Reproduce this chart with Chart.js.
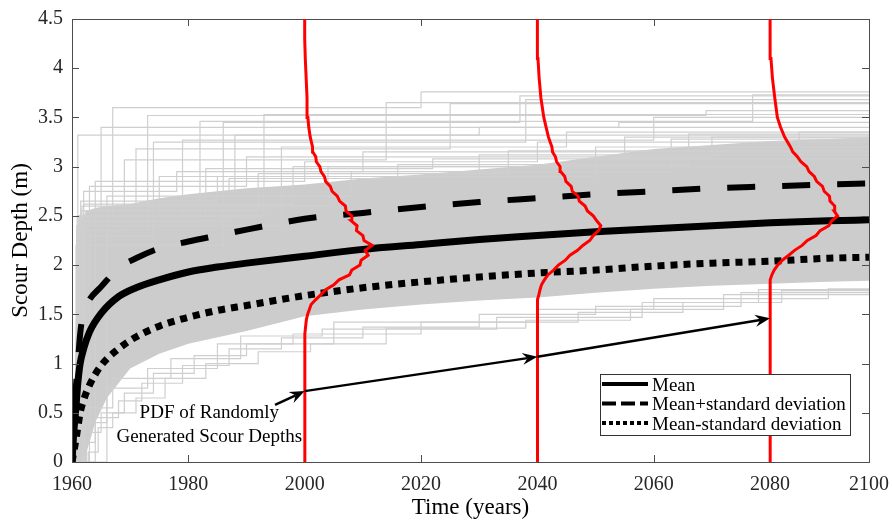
<!DOCTYPE html>
<html>
<head>
<meta charset="utf-8">
<script src="https://cdn.jsdelivr.net/npm/chart.js@4.4.1/dist/chart.umd.min.js"></script>
<style>
  html, body { margin: 0; padding: 0; background: #fff; }
  #wrap { width: 892px; height: 523px; }
</style>
</head>
<body>
<div id="wrap"><canvas id="chart"></canvas></div>
<script>
const SERIF = '"Liberation Serif", "Times New Roman", serif';

// axes
const xTickValues = [1960, 1980, 2000, 2020, 2040, 2060, 2080, 2097];
const xTickLabels = ['1960', '1980', '2000', '2020', '2040', '2060', '2080', '2100'];
const yTickValues = [0, 0.5, 1, 1.5, 2, 2.5, 3, 3.5, 4, 4.5];

// mean and +/- standard deviation
const statYears   = [1960, 1960.3, 1960.6, 1961, 1961.4, 1962, 1963, 1965, 1968, 1971, 1975, 1980, 1985, 1990, 2000, 2010, 2020, 2030, 2040, 2050, 2060, 2070, 2080, 2090, 2097];
const meanDepth   = [0, 0.3, 0.5, 0.8, 1.0, 1.15, 1.32, 1.51, 1.68, 1.77, 1.85, 1.93, 1.98, 2.02, 2.09, 2.16, 2.21, 2.26, 2.3, 2.34, 2.37, 2.4, 2.43, 2.45, 2.46];
const meanPlusSd  = [0, 0.35, 0.7, 1.0, 1.3, 1.53, 1.65, 1.78, 1.97, 2.07, 2.17, 2.24, 2.3, 2.36, 2.47, 2.53, 2.59, 2.64, 2.68, 2.72, 2.75, 2.78, 2.8, 2.82, 2.83];
const meanMinusSd = [0, 0.1, 0.2, 0.35, 0.5, 0.63, 0.78, 0.98, 1.15, 1.27, 1.38, 1.47, 1.54, 1.59, 1.69, 1.77, 1.83, 1.88, 1.92, 1.95, 1.99, 2.02, 2.04, 2.07, 2.08];

// dense part of the simulated paths
const bandYears = [1960.3, 1960.8, 1961.5, 1962.5, 1964, 1966, 1970, 1975, 1980, 1990, 2000, 2010, 2020, 2030, 2040, 2050, 2060, 2070, 2080, 2090, 2097];
const bandUpper = [0.3, 1.8, 2.45, 2.55, 2.58, 2.6, 2.62, 2.68, 2.72, 2.78, 2.82, 2.88, 2.92, 2.97, 3.02, 3.1, 3.18, 3.22, 3.26, 3.28, 3.3];
const bandLower = [0, 0, 0, 0.1, 0.4, 0.65, 0.95, 1.1, 1.2, 1.33, 1.48, 1.55, 1.6, 1.64, 1.67, 1.72, 1.76, 1.79, 1.81, 1.83, 1.84];

// single simulated paths outside the dense part, [year, depth] at each jump
const upperRuns = [
  [[1961, 3.32], [2030, 3.4]],
  [[1961.2, 2.4], [1965, 3.4], [2054, 3.45]],
  [[1960.9, 2.5], [1967, 3.6], [2020, 3.76]],
  [[1961.5, 2.3], [1973, 3.52], [2069, 3.57]],
  [[1961.8, 2.45], [1982, 3.46], [2077, 3.73]],
  [[1960.7, 2.2], [1986, 3.45], [2037, 3.72]],
  [[1962, 2.5], [1993, 3.53]],
  [[1961.3, 2.35], [1969, 3.07], [2014, 3.65]],
  [[1961.6, 2.55], [1971, 3.18], [2025, 3.64]],
  [[1961.1, 2.3], [1974, 3.25], [2038, 3.68]],
  [[1962.3, 2.45], [1979, 3.27], [2060, 3.5]],
  [[1961.4, 2.5], [1988, 3.32]],
  [[1960.8, 2.4], [1996, 3.2], [2045, 3.35]],
  [[1963, 2.8], [1990, 3.1], [2070, 3.3]],
  [[1962, 2.75], [1978, 2.95], [2010, 3.15]],
  [[1964, 2.85], [2000, 3.05], [2040, 3.25]],
  [[1961.5, 2.65], [1985, 2.9], [2050, 3.2]],
  [[1962, 2.62], [1998, 3.0], [2085, 3.35]],
  [[1961.2, 2.5], [1975, 2.9], [2030, 3.12]],
  [[1966, 2.7], [2008, 2.95], [2063, 3.28]],
  [[1961.3, 2.5], [1983, 2.98], [2022, 3.08]],
  [[1962.4, 2.55], [1992, 2.93], [2035, 3.16]],
  [[1961.7, 2.6], [2004, 3.0], [2055, 3.3]],
  [[1961, 2.45], [1987, 2.88], [2016, 3.02], [2066, 3.33]]
];
const lowerRuns = [
  [[1962.8, 0.1], [1964.5, 0.35], [1967, 0.5], [1971, 0.65], [1976, 0.85], [1983, 1.0], [1992, 1.12], [2001, 1.2], [2014, 1.36], [2038, 1.44], [2056, 1.55], [2072, 1.7]],
  [[1962, 0.3], [1965, 0.5], [1969, 0.7], [1974, 0.9], [1981, 1.08], [1990, 1.2], [1998, 1.3], [2020, 1.42], [2047, 1.52], [2065, 1.62], [2082, 1.74]],
  [[1962.5, 0.2], [1964, 0.45], [1968, 0.62], [1972, 0.8], [1979, 0.98], [1987, 1.15], [1996, 1.26], [2010, 1.37], [2030, 1.5], [2050, 1.58], [2075, 1.72]],
  [[1961.8, 0.4], [1966, 0.75], [1973, 0.95], [1985, 1.2], [2005, 1.42], [2040, 1.55], [2060, 1.66], [2090, 1.76]],
  [[1962.2, 0.55], [1967, 0.85], [1977, 1.05], [1989, 1.28], [2003, 1.35], [2033, 1.47], [2058, 1.62], [2078, 1.75]]
];

// PDFs of scour depth: horizontal offset (years) at each depth level
const pdfDepth = [0, 1.2, 1.3, 1.4, 1.45, 1.5, 1.55, 1.6, 1.65, 1.7,
  1.75, 1.8, 1.85, 1.9, 1.95, 2.0, 2.05, 2.1, 2.15, 2.2,
  2.25, 2.3, 2.35, 2.4, 2.45, 2.5, 2.55, 2.6, 2.65, 2.7,
  2.75, 2.8, 2.85, 2.9, 2.95, 3.0, 3.05, 3.1, 3.15, 3.2,
  3.3, 3.4, 3.5, 3.7, 3.9, 4.1, 4.3, 4.5];
const pdf2000 = [0, 0, 0.05, 0.2, 0.3, 0.5, 0.8, 1.1, 1.9, 2.8,
  3.6, 5.0, 5.9, 7.7, 8.1, 9.5, 9.7, 10.9, 10.4, 11.6,
  10.2, 10.0, 8.9, 9.0, 8.0, 8.1, 7.1, 7.0, 6.0, 5.6,
  4.7, 4.4, 3.6, 3.4, 2.8, 2.6, 2.0, 1.9, 1.4, 1.35,
  0.95, 0.7, 0.55, 0.4, 0.25, 0.1, 0, 0];
const pdf2040 = [0, 0, 0, 0, 0, 0, 0, 0.05, 0.1, 0.25,
  0.45, 0.7, 1.2, 1.8, 2.8, 3.6, 4.8, 5.6, 6.9, 7.8,
  9.0, 9.6, 10.5, 10.9, 10.2, 9.6, 8.6, 8.2, 7.2, 7.0,
  6.0, 5.8, 4.9, 4.7, 4.0, 3.9, 3.3, 3.1, 2.6, 2.5,
  1.9, 1.5, 1.1, 0.6, 0.3, 0.1, 0, 0];
const pdf2080 = [0, 0, 0, 0, 0, 0, 0, 0, 0, 0,
  0, 0.05, 0.1, 0.3, 0.7, 1.3, 2.1, 3.2, 4.2, 5.5,
  6.4, 7.9, 8.6, 10.1, 10.6, 11.6, 11.0, 11.1, 10.3, 10.2,
  9.3, 9.0, 8.0, 7.6, 6.7, 6.3, 5.3, 4.7, 3.9, 3.5,
  2.5, 1.8, 1.25, 0.8, 0.4, 0.15, 0, 0];
const pdfYears = [2000, 2040, 2080];
const pdfOffsets = [pdf2000, pdf2040, pdf2080];

// annotation arrows
const arrowFromX = [1994.9, 2000, 2040];
const arrowFromY = [0.58, 0.72, 1.07];
const arrowToX   = [2000, 2040, 2080];
const arrowToY   = [0.72, 1.07, 1.46];
const noteX = 1983.6;
const noteY = [0.5, 0.25];
const noteLines = ['PDF of Randomly', 'Generated Scour Depths'];

const legendLabels = ['Mean', 'Mean+standard deviation', 'Mean-standard deviation'];

function pts(xs, ys) {
  return xs.map((x, i) => ({ x: x, y: ys[i] }));
}

function runPoints(steps) {
  const d = [{ x: 1960, y: 0 }];
  steps.forEach(s => d.push({ x: s[0], y: s[1] }));
  d.push({ x: 2097, y: steps[steps.length - 1][1] });
  return d;
}

const datasets = [];

pdfYears.forEach((yr, k) => {
  datasets.push({
    data: pdfDepth.map((d, i) => ({ x: yr + pdfOffsets[k][i], y: d })),
    borderColor: '#ff0000',
    borderWidth: 3,
    order: 0
  });
});

datasets.push({
  data: pts(statYears, meanDepth),
  borderColor: '#000', borderWidth: 7, borderCapStyle: 'butt',
  cubicInterpolationMode: 'monotone', order: 1
});
datasets.push({
  data: pts(statYears, meanPlusSd),
  borderColor: '#000', borderWidth: 6, borderDash: [28, 27], borderCapStyle: 'butt',
  cubicInterpolationMode: 'monotone', order: 1
});
datasets.push({
  data: pts(statYears, meanMinusSd),
  borderColor: '#000', borderWidth: 7, borderDash: [7, 6], borderCapStyle: 'butt',
  cubicInterpolationMode: 'monotone', order: 1
});

upperRuns.concat(lowerRuns).forEach(r => {
  datasets.push({
    data: runPoints(r),
    borderColor: '#cfcfcf',
    borderWidth: 1.2,
    stepped: true,
    order: 2
  });
});

const bandLowerIndex = datasets.length + 1;
datasets.push({
  data: pts(bandYears, bandUpper),
  borderWidth: 0,
  backgroundColor: '#cccccc',
  fill: bandLowerIndex,
  order: 3
});
datasets.push({
  data: pts(bandYears, bandLower),
  borderWidth: 0,
  order: 3
});

function arrowHead(ctx, x0, y0, x1, y1) {
  const a = Math.atan2(y1 - y0, x1 - x0);
  ctx.save();
  ctx.translate(x1, y1);
  ctx.rotate(a);
  ctx.beginPath();
  ctx.moveTo(0, 0);
  ctx.lineTo(-15, -6);
  ctx.lineTo(-10, 0);
  ctx.lineTo(-15, 6);
  ctx.closePath();
  ctx.fill();
  ctx.restore();
}

function drawFrame(chart) {
  const ctx = chart.ctx;
  const xs = chart.scales.x, ys = chart.scales.y;
  const area = chart.chartArea;
  ctx.save();
  ctx.strokeStyle = '#4d4d4d';
  ctx.lineWidth = 1;
  ctx.strokeRect(area.left + 0.5, area.top + 0.5, area.right - area.left, area.bottom - area.top);
  ctx.beginPath();
  xTickValues.forEach(v => {
    const px = Math.round(xs.getPixelForValue(v)) + 0.5;
    ctx.moveTo(px, area.bottom); ctx.lineTo(px, area.bottom - 7);
    ctx.moveTo(px, area.top); ctx.lineTo(px, area.top + 7);
  });
  yTickValues.forEach(v => {
    const py = Math.round(ys.getPixelForValue(v)) + 0.5;
    ctx.moveTo(area.left, py); ctx.lineTo(area.left + 7, py);
    ctx.moveTo(area.right, py); ctx.lineTo(area.right - 7, py);
  });
  ctx.stroke();
  ctx.restore();
}

const decorations = {
  id: 'decorations',
  // box and ticks go under the red PDFs but over the grey paths
  beforeDatasetDraw(chart, args) {
    if (args.index === pdfYears.length - 1) drawFrame(chart);
  },
  afterDatasetsDraw(chart) {
    const ctx = chart.ctx;
    const xs = chart.scales.x, ys = chart.scales.y;
    const area = chart.chartArea;

    // arrows
    ctx.save();
    ctx.strokeStyle = '#000';
    ctx.fillStyle = '#000';
    ctx.lineWidth = 2.5;
    for (let i = 0; i < arrowFromX.length; i++) {
      const x0 = xs.getPixelForValue(arrowFromX[i]), y0 = ys.getPixelForValue(arrowFromY[i]);
      const x1 = xs.getPixelForValue(arrowToX[i]), y1 = ys.getPixelForValue(arrowToY[i]);
      const a = Math.atan2(y1 - y0, x1 - x0);
      ctx.beginPath();
      ctx.moveTo(x0, y0);
      ctx.lineTo(x1 - 10 * Math.cos(a), y1 - 10 * Math.sin(a));
      ctx.stroke();
      arrowHead(ctx, x0, y0, x1, y1);
    }

    // note text
    ctx.font = '19px ' + SERIF;
    ctx.textAlign = 'center';
    ctx.textBaseline = 'middle';
    noteLines.forEach((t, i) => {
      ctx.fillText(t, xs.getPixelForValue(noteX), ys.getPixelForValue(noteY[i]));
    });

    // legend
    const lx = area.right - 269, ly = area.bottom - 88, lw = 250, lh = 61;
    ctx.fillStyle = '#fff';
    ctx.fillRect(lx, ly, lw, lh);
    ctx.strokeStyle = '#333';
    ctx.lineWidth = 1;
    ctx.strokeRect(lx + 0.5, ly + 0.5, lw, lh);
    const dashes = [[], [14, 5], [4, 3]];
    ctx.font = '19px ' + SERIF;
    ctx.textAlign = 'left';
    for (let i = 0; i < legendLabels.length; i++) {
      const rowY = ly + 11 + i * 19.5;
      ctx.strokeStyle = '#000';
      ctx.lineWidth = 4;
      ctx.lineCap = 'butt';
      ctx.setLineDash(dashes[i]);
      ctx.beginPath();
      ctx.moveTo(lx + 2, rowY - 1);
      ctx.lineTo(lx + 48, rowY - 1);
      ctx.stroke();
      ctx.setLineDash([]);
      ctx.fillStyle = '#000';
      ctx.fillText(legendLabels[i], lx + 52, rowY + 1);
    }
    ctx.restore();
  }
};

new Chart(document.getElementById('chart'), {
  type: 'scatter',
  data: { datasets: datasets },
  options: {
    responsive: true,
    maintainAspectRatio: false,
    animation: false,
    events: [],
    showLine: true,
    elements: { point: { radius: 0 }, line: { tension: 0 } },
    layout: { padding: { top: 19, right: 23, left: 0, bottom: 0 } },
    plugins: { legend: { display: false }, tooltip: { enabled: false } },
    scales: {
      x: {
        type: 'linear',
        min: 1960,
        max: 2097,
        grid: { display: false, drawTicks: false },
        border: { display: false },
        afterBuildTicks: s => { s.ticks = xTickValues.map(v => ({ value: v })); },
        afterFit: s => { s.height = 61; s.paddingLeft = 0; s.paddingRight = 0; },
        ticks: {
          padding: 11,
          color: '#262626',
          font: { family: SERIF, size: 20 },
          maxRotation: 0,
          autoSkip: false,
          callback: v => xTickLabels[xTickValues.indexOf(v)]
        },
        title: {
          display: true,
          text: 'Time (years)',
          color: '#000',
          font: { family: SERIF, size: 23 },
          padding: { top: 0, bottom: 1 }
        }
      },
      y: {
        min: 0,
        max: 4.5,
        grid: { display: false, drawTicks: false },
        border: { display: false },
        afterBuildTicks: s => { s.ticks = yTickValues.map(v => ({ value: v })); },
        afterFit: s => { s.width = 72; s.paddingTop = 0; s.paddingBottom = 0; },
        ticks: {
          padding: 9,
          color: '#262626',
          font: { family: SERIF, size: 20 },
          callback: v => String(v)
        },
        title: {
          display: true,
          text: 'Scour Depth (m)',
          color: '#000',
          font: { family: SERIF, size: 23 },
          padding: { top: 7, bottom: 0 }
        }
      }
    }
  },
  plugins: [decorations]
});
</script>
</body>
</html>
